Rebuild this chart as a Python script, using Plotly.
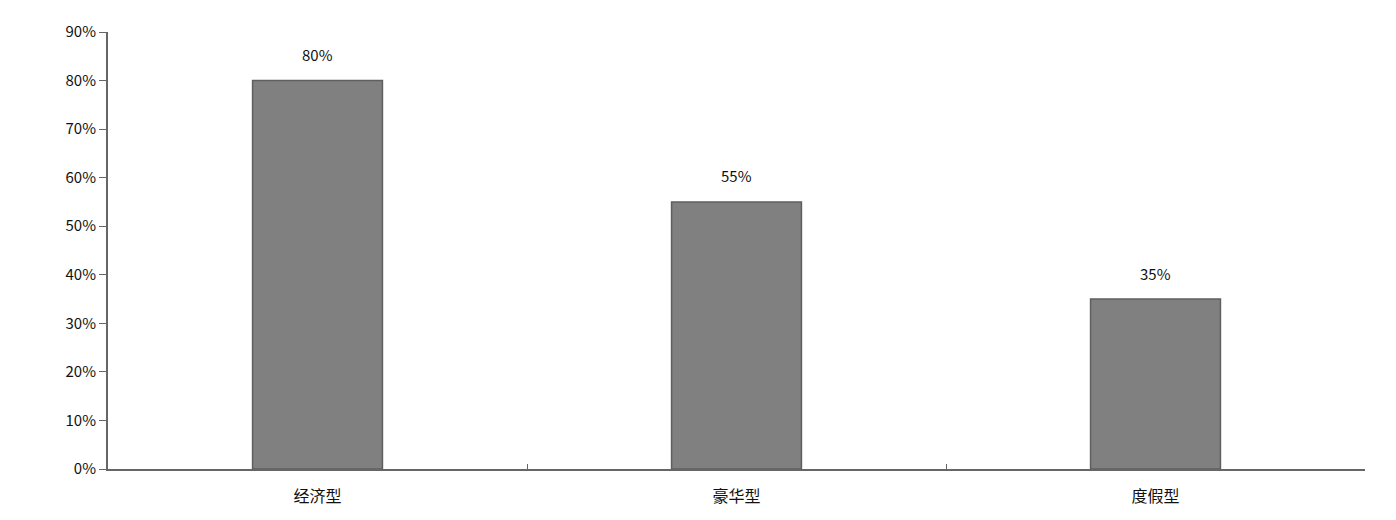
import plotly.graph_objects as go

categories = ["经济型", "豪华型", "度假型"]
values = [80, 55, 35]
y_ticks = [0, 10, 20, 30, 40, 50, 60, 70, 80, 90]
y_tick_labels = [f"{t}%" for t in y_ticks]

fig = go.Figure()

fig.add_trace(
    go.Bar(
        x=categories,
        y=values,
        width=0.31,
        marker=dict(color="#808080", line=dict(color="#5f5f5f", width=1.5)),
        hoverinfo="skip",
    )
)

# value labels sit well above the bars
for cat, val in zip(categories, values):
    fig.add_annotation(
        x=cat, y=val, text=f"{val}%", showarrow=False,
        yshift=26, font=dict(size=15, color="#111111"),
    )

# page body has an 8px margin, so the figure is a bit smaller than the window
fig.update_layout(
    width=1380,
    height=504,
    margin=dict(l=100, r=23, t=24, b=43),
    paper_bgcolor="white",
    plot_bgcolor="white",
    showlegend=False,
    font=dict(family="Noto Sans CJK SC, Noto Sans, sans-serif", color="#111111"),
    xaxis=dict(
        showline=True, linecolor="#666666", linewidth=2,
        ticks="inside", tickson="boundaries", ticklen=5, tickcolor="#666666",
        tickfont=dict(size=16), showgrid=False, ticklabelstandoff=12,
        automargin=False,
    ),
    yaxis=dict(
        range=[0, 90], tickmode="array", tickvals=y_ticks, ticktext=y_tick_labels,
        showline=True, linecolor="#666666", linewidth=2,
        ticks="outside", ticklen=7, tickcolor="#666666",
        tickfont=dict(size=15), showgrid=False, zeroline=False,
        automargin=False,
    ),
)

fig.write_html("out.html")
